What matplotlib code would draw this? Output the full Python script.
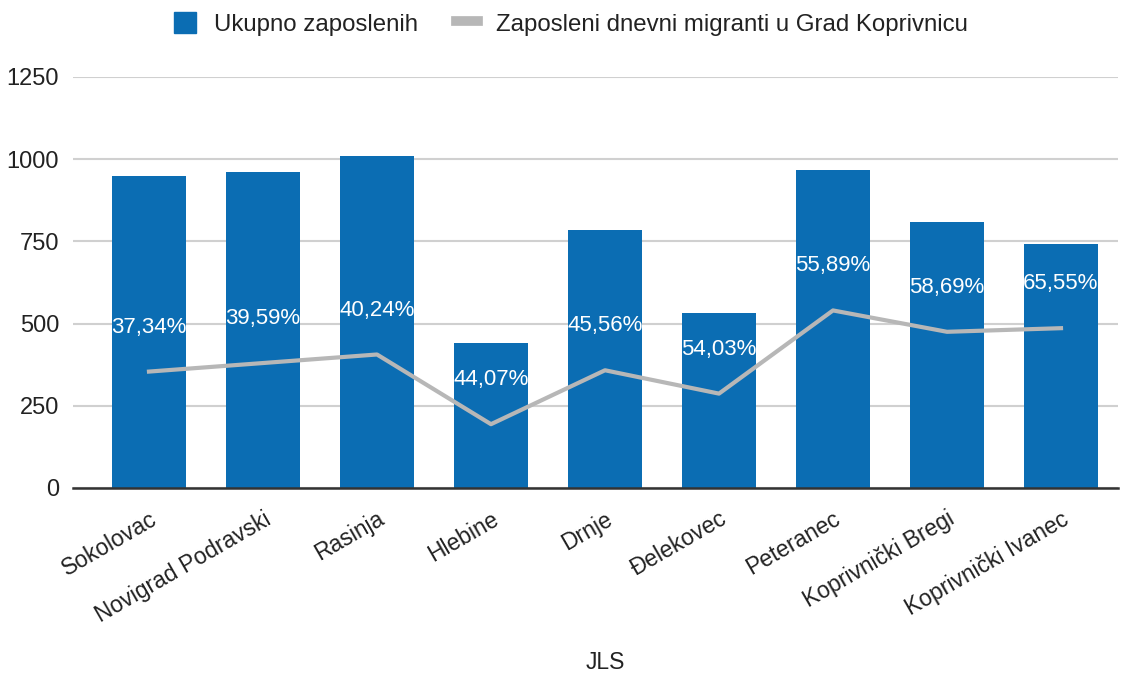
import matplotlib.pyplot as plt
import numpy as np
from matplotlib.lines import Line2D
from matplotlib.patches import Patch

plt.rcParams['font.family'] = ['Liberation Sans', 'DejaVu Sans']

# podaci
jls = ["Sokolovac", "Novigrad Podravski", "Rasinja", "Hlebine", "Drnje",
       "Đelekovec", "Peteranec", "Koprivnički Bregi", "Koprivnički Ivanec"]
ukupno = [949, 961, 1010, 441, 785, 532, 967, 809, 742]
migranti = [354, 380, 406, 194, 358, 287, 540, 475, 486]
postotak = ["37,34%", "39,59%", "40,24%", "44,07%", "45,56%",
            "54,03%", "55,89%", "58,69%", "65,55%"]
y_ticks = [0, 250, 500, 750, 1000, 1250]

bar_color = "#0b6db3"
line_color = "#b7b7b7"

fig = plt.figure(figsize=(11.31, 6.77), dpi=100)
ax = fig.add_axes([0.0645, 0.2792, 0.924, 0.6071])

x = np.arange(len(jls))
ax.bar(x, ukupno, width=0.65, color=bar_color, zorder=2)
ax.plot(x, migranti, color=line_color, linewidth=3, zorder=3)

for xi, yi, lab in zip(x, migranti, postotak):
    ax.annotate(lab, xy=(xi, yi), xytext=(0, 32), textcoords="offset points",
                ha="center", va="center", color="white", fontsize=16, zorder=4)

ax.set_ylim(0, 1250)
ax.set_xlim(-0.667, 8.5)
ax.set_yticks(y_ticks)
ax.set_yticklabels([str(t) for t in y_ticks], fontsize=17, color="#222222")
ax.set_xticks(x)
ax.set_xticklabels(jls, rotation=30, ha="right", rotation_mode="anchor",
                   fontsize=16.5, color="#222222")
ax.tick_params(axis="both", length=0)
ax.tick_params(axis="y", pad=10)
ax.tick_params(axis="x", pad=14)

ax.grid(axis="y", color="#d0d0d0", linewidth=1.5, zorder=0)
ax.set_axisbelow(True)
for s in ["top", "right", "left"]:
    ax.spines[s].set_visible(False)
ax.spines["bottom"].set_color("#333333")
ax.spines["bottom"].set_linewidth(1.8)
ax.spines["bottom"].set_zorder(5)

ax.set_xlabel("JLS", fontsize=16.5, color="#222222", va="center")
ax.xaxis.set_label_coords(0.509, -0.425)

handles = [Patch(facecolor=bar_color, edgecolor=bar_color),
           Line2D([0], [0], color=line_color, linewidth=7)]
fig.legend(handles, ["Ukupno zaposlenih", "Zaposleni dnevni migranti u Grad Koprivnicu"],
           loc="center", bbox_to_anchor=(0.505, 0.965), ncol=2, frameon=False,
           fontsize=17.3, handlelength=0.9, handleheight=1.0, columnspacing=1.6,
           handletextpad=0.75, labelcolor="#222222")

plt.savefig("out.png", dpi=100)
